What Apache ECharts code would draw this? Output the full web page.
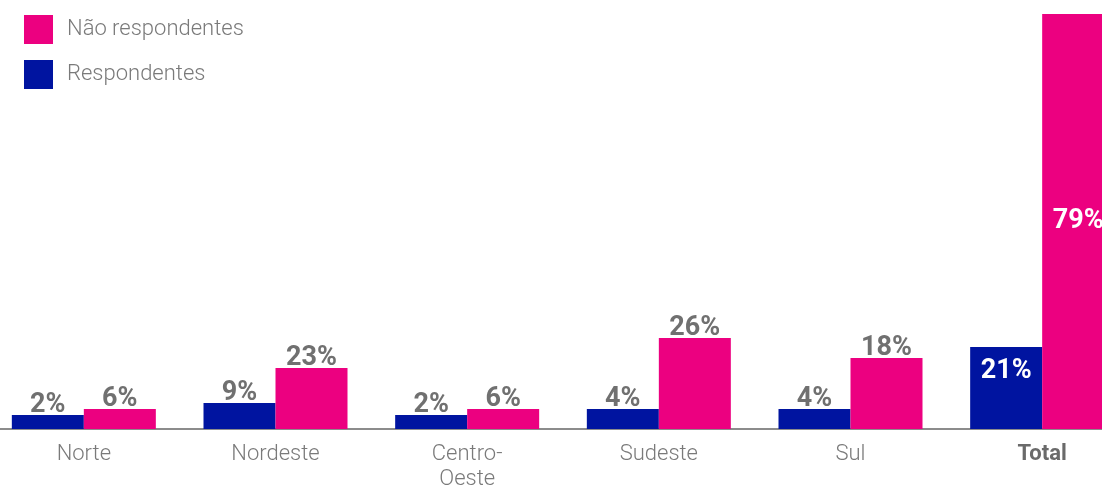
<!DOCTYPE html>
<html>
<head>
<meta charset="utf-8">
<script src="https://cdn.jsdelivr.net/npm/echarts@6/dist/echarts.min.js"></script>
<style>
  html, body { margin: 0; padding: 0; background: #fff; }
  #chart { width: 1102px; height: 485px; }
</style>
</head>
<body>
<div id="chart"></div>
<script>
/* Dados */
const categories = ['Norte', 'Nordeste', 'Centro-\nOeste', 'Sudeste', 'Sul', 'Total'];
const respondentesPct = [2, 9, 2, 4, 4, 21];
const naoRespondentesPct = [6, 23, 6, 26, 18, 79];
// comprimento das barras como aparecem no gráfico (não proporcional aos %)
const respondentesBar = [14, 26, 14, 20, 20, 82];
const naoRespondentesBar = [20, 61, 20, 91, 71, 415];

const BLUE = '#0014a0';
const PINK = '#ec0080';
const GRAY = '#707070';

const labelOut = {
  show: true,
  position: 'top',
  distance: -4,
  color: GRAY,
  fontFamily: 'Roboto',
  fontWeight: 'bold',
  fontSize: 27
};

function buildData(lengths, pcts, insideLabel) {
  return lengths.map((v, i) => {
    const item = { value: v, pct: pcts[i] };
    if (categories[i] === 'Total') {
      item.label = Object.assign({}, labelOut, insideLabel);
    }
    return item;
  });
}

const pctFmt = (p) => p.data.pct + '%';

const chart = echarts.init(document.getElementById('chart'), null, { renderer: 'canvas' });

chart.setOption({
  animation: false,
  textStyle: { fontFamily: 'Roboto' },
  legend: {
    orient: 'vertical',
    left: 24,
    top: 15,
    padding: 0,
    itemWidth: 29,
    itemHeight: 29,
    itemGap: 16,
    icon: 'rect',
    data: ['Não respondentes', 'Respondentes'],
    textStyle: {
      fontSize: 22,
      color: '#7a7a7a',
      fontWeight: 300,
      padding: [4, 0, 0, 9]
    }
  },
  grid: { left: -12, right: -36, top: 14, bottom: 56, outerBoundsMode: 'none', containLabel: false },
  xAxis: {
    type: 'category',
    data: categories,
    axisTick: { show: false },
    axisLine: { lineStyle: { color: '#8c8c8c', width: 2 } },
    axisLabel: {
      margin: 13,
      fontSize: 22,
      lineHeight: 25,
      fontWeight: 300,
      color: '#7a7a7a',
      formatter: (v) => (v === 'Total' ? '{b|Total}' : v),
      rich: {
        b: { fontSize: 22, fontWeight: 'bold', color: '#6a6a6a', lineHeight: 25 }
      }
    }
  },
  yAxis: {
    type: 'value',
    min: 0,
    max: 415,
    show: false,
    splitLine: { show: false }
  },
  series: [
    {
      name: 'Respondentes',
      type: 'bar',
      barWidth: 72,
      barGap: '0%',
      itemStyle: { color: BLUE },
      label: Object.assign({}, labelOut, { formatter: pctFmt }),
      data: buildData(respondentesBar, respondentesPct, {
        position: 'insideTop', distance: 11, color: '#fff', formatter: pctFmt
      })
    },
    {
      name: 'Não respondentes',
      type: 'bar',
      barWidth: 72,
      barGap: '0%',
      itemStyle: { color: PINK },
      label: Object.assign({}, labelOut, { formatter: pctFmt }),
      data: buildData(naoRespondentesBar, naoRespondentesPct, {
        position: 'inside', color: '#fff', formatter: pctFmt
      })
    }
  ]
});
</script>
</body>
</html>
